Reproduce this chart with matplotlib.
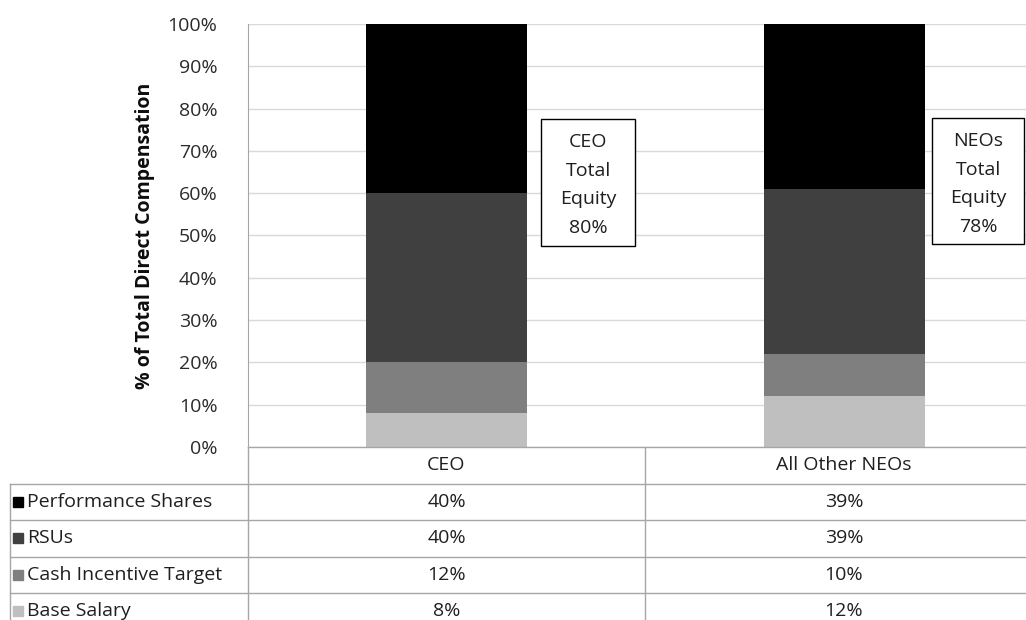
import matplotlib
matplotlib.use("Agg")
import matplotlib.pyplot as plt
from matplotlib.patches import Rectangle
from matplotlib.lines import Line2D

categories = ["CEO", "All Other NEOs"]
series_names = ["Performance Shares", "RSUs", "Cash Incentive Target", "Base Salary"]
base_salary = [8, 12]
cash_incentive = [12, 10]
rsus = [40, 39]
performance_shares = [40, 39]
equity_labels = [["CEO", "Total", "Equity", "80%"], ["NEOs", "Total", "Equity", "78%"]]
yticks = [0, 10, 20, 30, 40, 50, 60, 70, 80, 90, 100]

colors = {"Base Salary": "#bfbfbf", "Cash Incentive Target": "#7f7f7f",
          "RSUs": "#404040", "Performance Shares": "#000000"}

FONT = "Open Sans"
FS = 14
TC = "#1f1f1f"
plt.rcParams['font.family'] = [FONT, 'DejaVu Sans']

W, H = 1026, 620
fig = plt.figure(figsize=(W / 100, H / 100), dpi=100)

def fx(x):
    return x / W

def fy(y):
    return 1 - y / H

ax_l, ax_r, ax_t, ax_b = 248, 1043, 24, 447
ax = fig.add_axes([fx(ax_l), fy(ax_b), fx(ax_r - ax_l), (ax_b - ax_t) / H])
ax.set_xlim(-0.5, 1.5)
ax.set_ylim(0, 100)

x = range(len(categories))
bw = 0.405
stack_order = [("Base Salary", base_salary), ("Cash Incentive Target", cash_incentive),
               ("RSUs", rsus), ("Performance Shares", performance_shares)]
bottom = [0] * len(categories)
for name, vals in stack_order:
    ax.bar(x, vals, bw, bottom=bottom, color=colors[name], zorder=3)
    bottom = [b + v for b, v in zip(bottom, vals)]

ax.set_yticks(yticks)
ax.set_yticklabels([f"{t}%" for t in yticks], fontsize=FS, color="#2b2b2b")
ax.tick_params(axis="y", length=0, pad=22)
ax.set_xticks([])
ax.grid(axis="y", color="#d9d9d9", linewidth=1, zorder=0)
for s in ["top", "right", "bottom"]:
    ax.spines[s].set_visible(False)
ax.spines["left"].set_color("#a6a6a6")
ax.set_ylabel("% of Total Direct Compensation", fontsize=FS, fontweight="bold",
              color="#0d0d0d")
ax.yaxis.set_label_coords((155 - ax_l) / (ax_r - ax_l), 0.5)

# equity boxes
boxes = [(541, 119, 635, 246), (932, 118, 1024, 244)]
line_y = [142, 171, 199, 228]
for (x0, y0, x1, y1), lines in zip(boxes, equity_labels):
    fig.add_artist(Rectangle((fx(x0), fy(y1)), fx(x1 - x0), (y1 - y0) / H,
                             fc="white", ec="black", lw=1, transform=fig.transFigure,
                             zorder=5))
    cx = (x0 + x1) / 2
    for ly, t in zip(line_y, lines):
        fig.text(fx(cx), fy(ly - (119 - y0)), t, ha="center", va="center",
                 fontsize=FS, color=TC, zorder=6)

# data table
lc = "#a6a6a6"
row_h = 36.5
header_top = ax_b
rows_y = [header_top + row_h * i for i in range(6)]
col_x = [10, ax_l, 645, ax_r]

def hline(y, x0, x1):
    fig.add_artist(Line2D([fx(x0), fx(x1)], [fy(y), fy(y)], color=lc, lw=1,
                          transform=fig.transFigure))

def vline(x, y0, y1):
    fig.add_artist(Line2D([fx(x), fx(x)], [fy(y0), fy(y1)], color=lc, lw=1,
                          transform=fig.transFigure))

hline(header_top, ax_l, ax_r)
for i in range(1, 5):
    hline(rows_y[i], col_x[0], ax_r)
vline(col_x[0], rows_y[1], H + 5)
vline(col_x[1], header_top, H + 5)
vline(col_x[2], header_top, H + 5)

centers = [(col_x[1] + col_x[2]) / 2, (col_x[2] + col_x[3]) / 2]
for c, cat in zip(centers, categories):
    fig.text(fx(c), fy(header_top + row_h / 2), cat, ha="center", va="center",
             fontsize=FS, color=TC)

table_vals = {"Performance Shares": performance_shares, "RSUs": rsus,
              "Cash Incentive Target": cash_incentive, "Base Salary": base_salary}
for i, name in enumerate(series_names):
    yc = rows_y[i + 1] + row_h / 2
    fig.add_artist(Rectangle((fx(13), fy(yc + 5)), fx(10), 10 / H,
                             color=colors[name], transform=fig.transFigure))
    fig.text(fx(27), fy(yc), name, ha="left", va="center", fontsize=FS, color=TC)
    for c, v in zip(centers, table_vals[name]):
        fig.text(fx(c), fy(yc), f"{v}%", ha="center", va="center", fontsize=FS,
                 color=TC)

fig.savefig("out.png", dpi=100)
